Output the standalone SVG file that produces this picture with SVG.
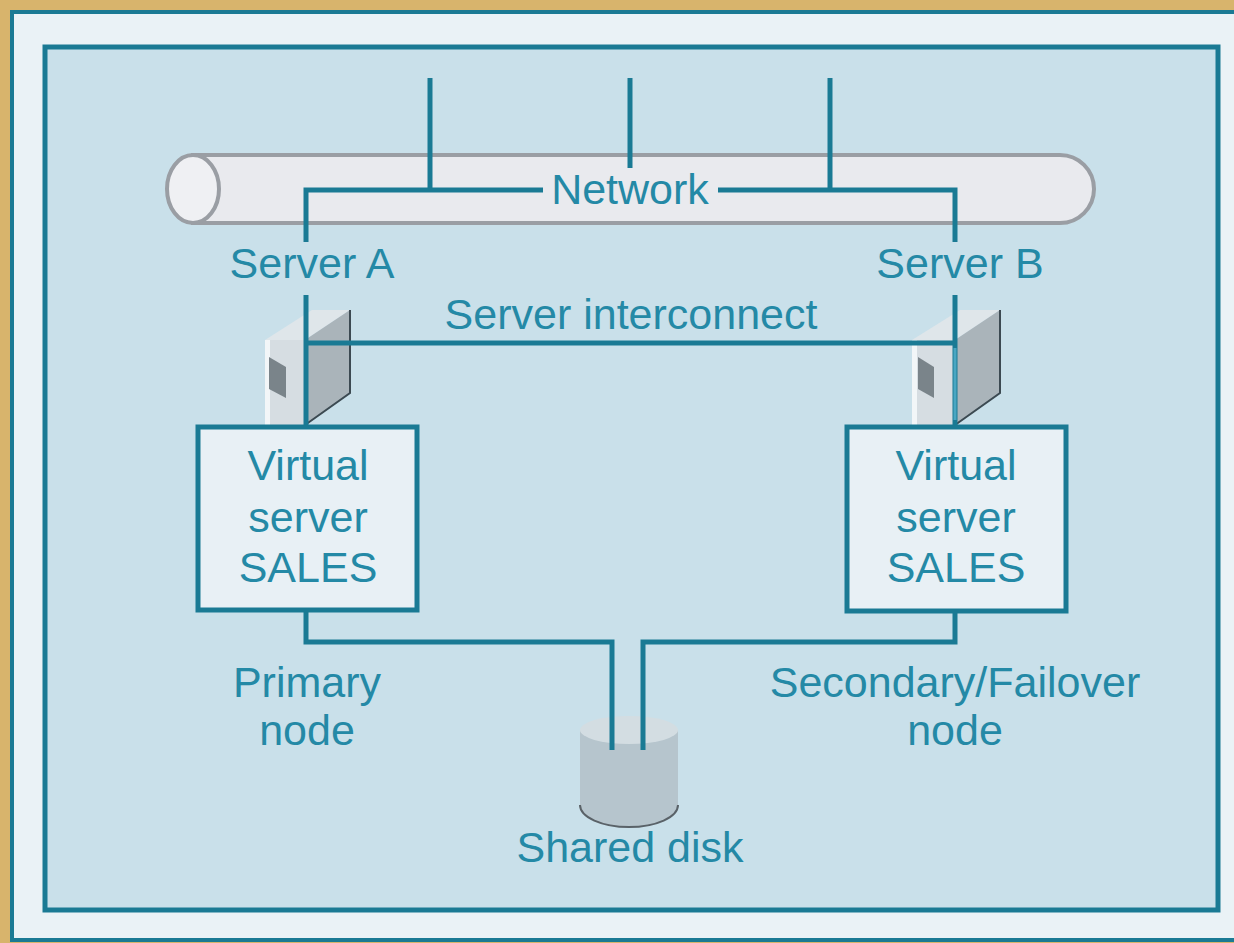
<svg xmlns="http://www.w3.org/2000/svg" width="1234" height="943" viewBox="0 0 1234 943">
  <style>
    .wire { fill: none; stroke: #1a7a94; stroke-width: 5; stroke-linejoin: miter; }
    .lbl { font-family: "Liberation Sans", Arial, sans-serif; font-size: 43px; fill: #2489a6; text-anchor: middle; }
    .box { fill: #e8f0f5; stroke: #1a7a94; stroke-width: 5; }
  </style>

  <!-- page background and frame -->
  <rect x="0" y="0" width="1234" height="943" fill="#d8b46c"/>
  <rect x="12" y="12" width="1240" height="928" fill="#eaf2f6" stroke="#1a7a94" stroke-width="4"/>
  <rect x="45" y="47" width="1173" height="863" fill="#c9e0ea" stroke="#1a7a94" stroke-width="5"/>

  <!-- network cable -->
  <g id="network">
    <path d="M193,155 H1060 A34,34 0 0 1 1060,223 H193 Z" fill="#e9eaee" stroke="#9a9ea4" stroke-width="4"/>
    <ellipse cx="193" cy="189" rx="26" ry="34" fill="#eff0f3" stroke="#9a9ea4" stroke-width="4"/>
  </g>

  <!-- server A tower -->
  <g id="serverA">
    <polygon points="265,340 305,340 350,310 312,310" fill="#dfe6ea"/>
    <rect x="265" y="340" width="40" height="85" fill="#d6dde2"/>
    <rect x="265" y="340" width="5" height="85" fill="#f2f6f8"/>
    <polygon points="269,357 286,367 286,398 269,389" fill="#7a848a"/>
    <polygon points="305,340 350,310 350,393 305,425" fill="#aab4ba"/>
    <polyline points="350,310 350,393 305,425" fill="none" stroke="#3c4a52" stroke-width="2"/>
  </g>

  <!-- server B tower -->
  <g id="serverB">
    <polygon points="912,340 955,340 1000,310 960,310" fill="#dfe6ea"/>
    <rect x="912" y="340" width="43" height="85" fill="#d6dde2"/>
    <rect x="912" y="340" width="5" height="85" fill="#f2f6f8"/>
    <polygon points="918,357 934,367 934,398 918,389" fill="#7a848a"/>
    <polygon points="955,340 1000,310 1000,393 955,425" fill="#aab4ba"/>
    <polyline points="1000,310 1000,393 955,425" fill="none" stroke="#3c4a52" stroke-width="2"/>
  </g>

  <!-- shared disk -->
  <g id="disk">
    <path d="M580,730 V805 A49,22 0 0 0 678,805 V730 Z" fill="#b6c5cd"/>
    <path d="M580,805 A49,22 0 0 0 678,805" fill="none" stroke="#5a6268" stroke-width="2"/>
    <ellipse cx="629" cy="730" rx="49" ry="14" fill="#d3dde2"/>
  </g>

  <!-- connectors -->
  <g id="connectors">
    <line class="wire" x1="430" y1="78" x2="430" y2="190"/>
    <line class="wire" x1="630" y1="78" x2="630" y2="168"/>
    <line class="wire" x1="830" y1="78" x2="830" y2="190"/>
    <polyline class="wire" points="306,242 306,190 543,190"/>
    <polyline class="wire" points="955,242 955,190 718,190"/>
    <line class="wire" x1="306" y1="295" x2="306" y2="427"/>
    <line class="wire" x1="955" y1="295" x2="955" y2="427"/>
    <line x1="955" y1="348" x2="955" y2="420" stroke="#4aa6c2" stroke-width="3"/>
    <line class="wire" x1="306" y1="343" x2="955" y2="343"/>
    <polyline class="wire" points="306,610 306,642 612,642 612,750"/>
    <polyline class="wire" points="955,612 955,642 643,642 643,750"/>
  </g>

  <!-- virtual server boxes -->
  <g id="vsA">
    <rect class="box" x="198" y="427" width="219" height="183"/>
    <text class="lbl" x="308" y="480">Virtual</text>
    <text class="lbl" x="308" y="532">server</text>
    <text class="lbl" x="308" y="582">SALES</text>
  </g>
  <g id="vsB">
    <rect class="box" x="847" y="427" width="219" height="184"/>
    <text class="lbl" x="956" y="480">Virtual</text>
    <text class="lbl" x="956" y="532">server</text>
    <text class="lbl" x="956" y="582">SALES</text>
  </g>

  <!-- labels -->
  <text class="lbl" x="630" y="204">Network</text>
  <text class="lbl" x="312" y="278">Server A</text>
  <text class="lbl" x="960" y="278">Server B</text>
  <text class="lbl" x="631" y="329">Server interconnect</text>
  <text class="lbl" x="307" y="697">Primary</text>
  <text class="lbl" x="307" y="745">node</text>
  <text class="lbl" x="955" y="697">Secondary/Failover</text>
  <text class="lbl" x="955" y="745">node</text>
  <text class="lbl" x="630" y="862">Shared disk</text>
</svg>
